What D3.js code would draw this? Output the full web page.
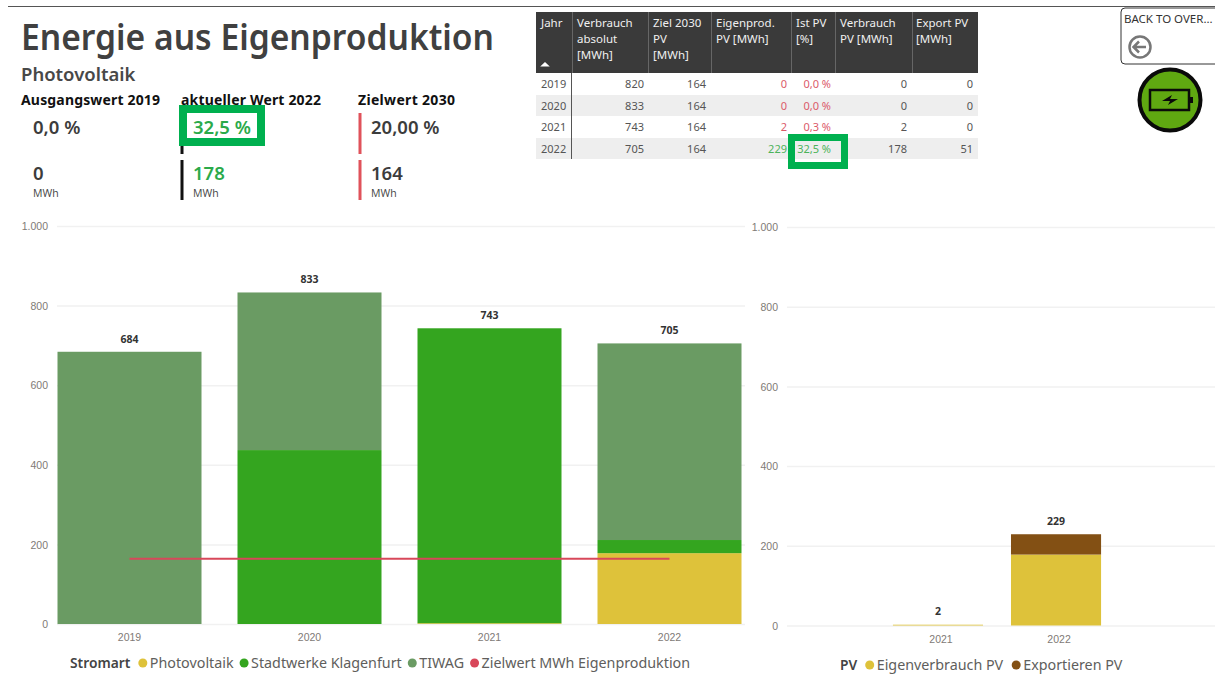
<!DOCTYPE html>
<html><head><meta charset="utf-8">
<script src="https://cdn.jsdelivr.net/npm/d3@7/dist/d3.min.js"></script>
<style>html,body{margin:0;padding:0;background:#fff;overflow:hidden}svg{display:block;font-family:"Open Sans",sans-serif}</style>
</head><body><svg id="c" width="1215" height="675"></svg>
<script>
// ---- data ----
const years = ["2019","2020","2021","2022"];
const photovoltaik = [0,0,2,178];
const stadtwerke = [0,437,741,33];
const tiwag = [684,396,0,494];
const zielwert = [164,164,164,164];
const pvYears = ["2021","2022"];
const eigenverbrauch = [2,178];
const exportieren = [0,51];
const yTicks = [0,200,400,600,800,1000];
const legendLeftTitle = "Stromart";
const legendLeftItems = ["Photovoltaik","Stadtwerke Klagenfurt","TIWAG","Zielwert MWh Eigenproduktion"];
const legendRightTitle = "PV";
const legendRightItems = ["Eigenverbrauch PV","Exportieren PV"];
const tableHeaders = [["Jahr"],["Verbrauch","absolut","[MWh]"],["Ziel 2030","PV","[MWh]"],["Eigenprod.","PV [MWh]"],["Ist PV","[%]"],["Verbrauch","PV [MWh]"],["Export PV","[MWh]"]];
const tableYears = ["2019","2020","2021","2022"];
const tableVerbrauch = ["820","833","743","705"];
const tableZiel = ["164","164","164","164"];
const tableEigen = ["0","0","2","229"];
const tableIst = ["0,0 %","0,0 %","0,3 %","32,5 %"];
const tableVerbrauchPV = ["0","0","2","178"];
const tableExport = ["0","0","0","51"];
const kpiLabels = ["Ausgangswert 2019","aktueller Wert 2022","Zielwert 2030"];
const kpiPercent = ["0,0 %","32,5 %","20,00 %"];
const kpiMwh = ["0","178","164"];

// ---- style ----
const C = {pv:"#DEC23A",sw:"#34A51F",ti:"#6A9B63",ziel:"#D8475A",exp:"#835014",grid:"#f1f1f1",tick:"#807a76",dark:"#3c3c3c",good:"#2BAA4A",bad:"#D8475A",box:"#00B04F"};
const svg = d3.select("#c");
const de = d3.formatLocale({decimal:",",thousands:".",grouping:[3],currency:["","€"]});

function text(g,x,y,s,size,weight,fill,anchor){
  return g.append("text").attr("x",x).attr("y",y).text(s).attr("font-size",size)
    .attr("font-weight",weight||400).attr("fill",fill||C.dark).attr("text-anchor",anchor||"start");
}

// top rule
svg.append("line").attr("x1",8).attr("x2",1215).attr("y1",6.5).attr("y2",6.5).attr("stroke","#555").attr("stroke-width",1);

// heading
text(svg,21,50,"Energie aus Eigenproduktion",35.5,600,"#404040").style("font-family","'Noto Sans'")
  .attr("textLength",473).attr("lengthAdjust","spacingAndGlyphs");
text(svg,21,81,"Photovoltaik",18.5,600,"#484848").style("font-family","'Noto Sans'");

// KPI
const kpiX = [21,181,358], kpiValX = [33,193,371];
const kpiBar = [null,"#111","#E0525A"], kpiCol = [C.dark,C.good,C.dark];
kpiLabels.forEach((s,i)=>{
  text(svg,kpiX[i],105,s,14,700,"#111").style("font-family","'Noto Sans'").attr("textLength",i==0?139:i==1?140:97);
  text(svg,kpiValX[i],134,kpiPercent[i],18.5,600,kpiCol[i]).style("font-family","'Noto Sans'");
  text(svg,kpiValX[i],180,kpiMwh[i],18.5,600,kpiCol[i]).style("font-family","'Noto Sans'");
  text(svg,kpiValX[i],197,"MWh",10.5,400,"#444");
  if(kpiBar[i]){
    [[113,154],[160,200]].forEach(r=>svg.append("rect").attr("x",kpiX[i]===181?180.5:358.5).attr("width",3).attr("y",r[0]).attr("height",r[1]-r[0]).attr("fill",kpiBar[i]));
  }
});
svg.append("rect").attr("x",183).attr("y",109).attr("width",78).attr("height",33).attr("fill","none").attr("stroke",C.box).attr("stroke-width",8);

// table
const tbl = svg.append("g");
const colEdges = [536,572,648,711,791,835,912,978];
const headX = [541,577,653,716,796,840,916];
const cellX = [541,644,706,787,831,907,973];
const rowY = [73,95,116,138,159];
tbl.append("rect").attr("x",536).attr("y",12).attr("width",442).attr("height",61).attr("fill","#3a3a3a");
colEdges.slice(1,-1).forEach(x=>tbl.append("line").attr("x1",x+.5).attr("x2",x+.5).attr("y1",12).attr("y2",73).attr("stroke","#666"));
tableHeaders.forEach((lines,i)=>lines.forEach((l,j)=>text(tbl,headX[i],26.5+j*16,l,11.5,400,"#f0f0f0").style("font-family","'Noto Sans'")));
tbl.append("path").attr("d",d3.symbol(d3.symbolTriangle,22)()).attr("transform","translate(545,65) scale(1.35,0.7)").attr("fill","#fff");
const cols = [tableYears,tableVerbrauch,tableZiel,tableEigen,tableIst,tableVerbrauchPV,tableExport];
tableYears.forEach((y,r)=>{
  if(r%2) tbl.append("rect").attr("x",536).attr("y",rowY[r]).attr("width",442).attr("height",rowY[r+1]-rowY[r]).attr("fill","#eeeeee");
});
tbl.append("line").attr("x1",571.5).attr("x2",571.5).attr("y1",73).attr("y2",159).attr("stroke","#555");
tableYears.forEach((y,r)=>{
  const base = rowY[r]+15;
  const good = parseFloat(tableIst[r].replace(",","."))>=20;
  cols.forEach((col,c)=>{
    const fill = (c===3||c===4)?(good?"#4CB35A":"#DB5A6A"):"#555";
    text(tbl,cellX[c],base,col[r],11,400,fill,c===0?"start":"end").style("font-family","'Noto Sans'");
  });
});
svg.append("rect").attr("x",791.5).attr("y",137.5).attr("width",53).attr("height",28).attr("fill","none").attr("stroke",C.box).attr("stroke-width",7);

// axes helper
function yAxis(g,y,left,right,labelX){
  const ax = d3.axisLeft(y).tickValues(yTicks).tickSize(0).tickFormat(de.format(",d"));
  const a = g.append("g").attr("transform",`translate(${left},0)`).call(ax);
  a.select(".domain").remove();
  a.selectAll(".tick").each(function(){
    const t=d3.select(this);
    t.select("line").attr("x2",right-left).attr("stroke",C.grid).attr("stroke-width",1.5);
    t.select("text").attr("x",labelX-left).attr("fill",C.tick).attr("font-size",10.5).attr("text-anchor","end").attr("dy","0.36em");
  });
}
function xAxis(g,x,yPos,dx){
  const a = g.append("g").attr("transform",`translate(${dx},${yPos})`).call(d3.axisBottom(x).tickSize(0));
  a.select(".domain").remove();
  a.selectAll(".tick text").attr("fill",C.tick).attr("font-size",10.5).attr("y",10).attr("dy","0.71em");
}
function barsStack(g,rows,keys,colors,x,y){
  const st = d3.stack().keys(keys)(rows);
  st.forEach((layer,i)=>{
    g.append("g").selectAll("rect").data(layer).join("rect")
      .attr("x",d=>x(d.data.year)).attr("width",x.bandwidth())
      .attr("y",d=>y(d[1])).attr("height",d=>y(d[0])-y(d[1]))
      .attr("fill",colors[i]);
  });
}
function legend(g,startX,baseY,title,items,colors,gap){
  const t = text(g,startX,baseY,title,13.8,600,"#444").style("font-family","'Noto Sans'");
  let cx = startX + t.node().getComputedTextLength() + 12.5;
  items.forEach((s,i)=>{
    g.append("circle").attr("cx",cx).attr("cy",baseY-5).attr("r",4.5).attr("fill",colors[i]);
    const l = text(g,cx+7,baseY,s,14.3,400,"#605e5c").style("font-family","'Noto Sans'");
    cx += 7 + l.node().getComputedTextLength() + gap;
  });
}

// left chart
const L = svg.append("g");
const yL = d3.scaleLinear().domain([0,1000]).range([624,226]);
const xL = d3.scaleBand().domain(years).range([39.5,759.5]).paddingInner(0.2).paddingOuter(0.1);
yAxis(L,yL,57,745,48);
const rowsL = years.map((year,i)=>({year,pv:photovoltaik[i],sw:stadtwerke[i],ti:tiwag[i]}));
barsStack(L,rowsL,["pv","sw","ti"],[C.pv,C.sw,C.ti],xL,yL);
L.append("path").datum(years.map((y,i)=>[xL(y)+xL.bandwidth()/2,yL(zielwert[i])]))
  .attr("d",d3.line()).attr("fill","none").attr("stroke",C.ziel).attr("stroke-width",2);
xAxis(L,xL,624,0);
L.append("g").selectAll("text").data(rowsL).join("text")
  .attr("x",d=>xL(d.year)+xL.bandwidth()/2).attr("y",d=>yL(d.pv+d.sw+d.ti)-9)
  .attr("text-anchor","middle").attr("font-size",10.5).attr("font-weight",700).attr("fill","#333")
  .text(d=>d.pv+d.sw+d.ti);
legend(L,70,668,legendLeftTitle,legendLeftItems,[C.pv,C.sw,C.ti,C.ziel],10.5);

// right chart
const R = svg.append("g");
const yR = d3.scaleLinear().domain([0,1000]).range([625.5,227]);
const xR = d3.scaleBand().domain(pvYears).range([879,1115]).paddingInner(0.237).paddingOuter(0.118);
yAxis(R,yR,787,1215,778);
const rowsR = pvYears.map((year,i)=>({year,eig:eigenverbrauch[i],exp:exportieren[i]}));
barsStack(R,rowsR,["eig","exp"],[C.pv,C.exp],xR,yR);
xAxis(R,xR,625.5,3);
R.append("g").selectAll("text").data(rowsR).join("text")
  .attr("x",d=>xR(d.year)+xR.bandwidth()/2).attr("y",d=>yR(d.eig+d.exp)-9.5)
  .attr("text-anchor","middle").attr("font-size",10.5).attr("font-weight",700).attr("fill","#333")
  .text(d=>d.eig+d.exp);
legend(R,840,670,legendRightTitle,legendRightItems,[C.pv,C.exp],13);

// back button
const B = svg.append("g");
B.append("path").attr("d","M1216,8H1125a4,4 0 0 0 -4,4V60a4,4 0 0 0 4,4H1216").attr("fill","#fff").attr("stroke","#333");
text(B,1124,23,"BACK TO OVER...",11.5,400,"#333").style("font-family","'Noto Sans'");
B.append("circle").attr("cx",1140).attr("cy",47).attr("r",10.5).attr("fill","none").attr("stroke","#777").attr("stroke-width",2.5);
B.append("path").attr("d","M1146,47H1134M1139,41.5L1133.5,47L1139,52.5").attr("fill","none").attr("stroke","#777").attr("stroke-width",2.5);

// battery icon
const I = svg.append("g").attr("transform","translate(1170,100)");
I.append("circle").attr("r",30.5).attr("fill","#5FA811").attr("stroke","#0a0a0a").attr("stroke-width",4);
I.append("rect").attr("x",-20).attr("y",-10).attr("width",39).attr("height",20).attr("fill","none").attr("stroke","#0a0a0a").attr("stroke-width",2.5);
I.append("rect").attr("x",20).attr("y",-3).attr("width",3).attr("height",6).attr("fill","#0a0a0a");
I.append("path").attr("d","M-8,1L2,-5L0,-1L8,-1L-2,5L0,1Z").attr("fill","#0a0a0a");
</script></body></html>
